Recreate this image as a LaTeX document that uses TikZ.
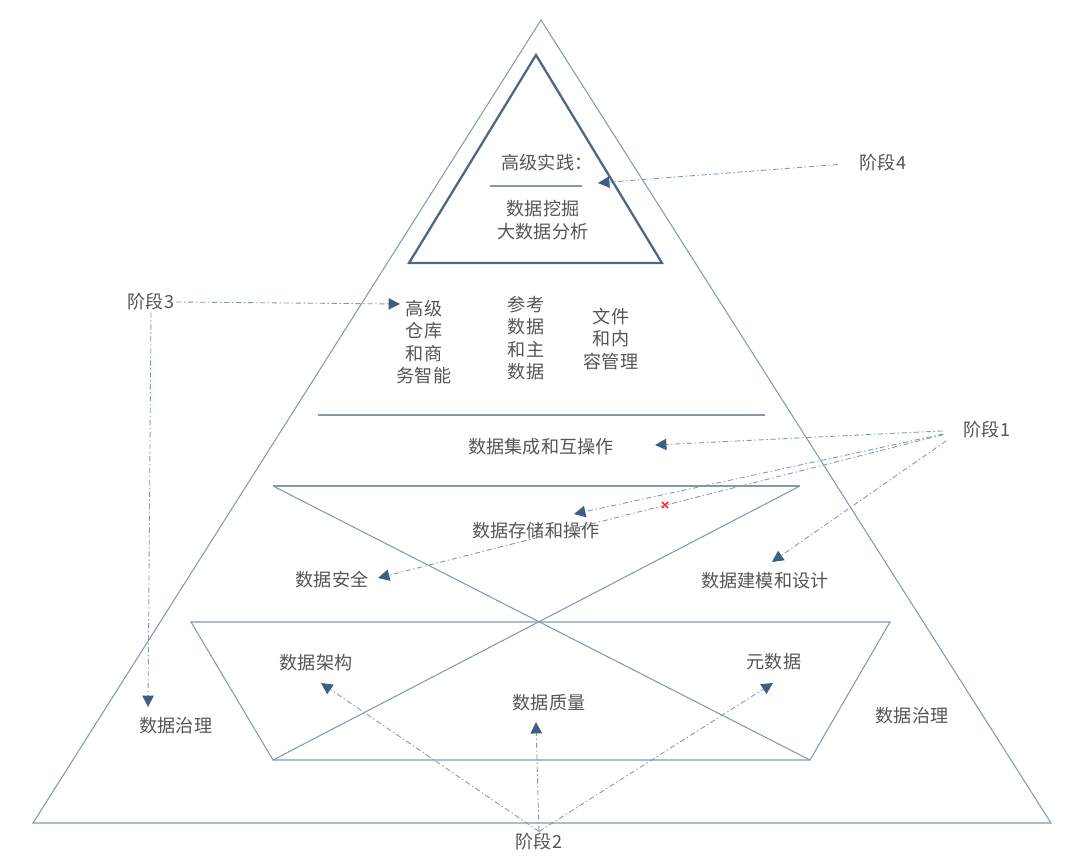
\documentclass[tikz,border=0pt]{standalone}
\usepackage{fontspec}
\setmainfont{Noto Sans CJK SC}
\usepackage{tikz}
\usetikzlibrary{arrows.meta}
\definecolor{frame}{HTML}{8399B0}
\definecolor{deep}{HTML}{4C6885}
\definecolor{tip}{HTML}{3F5F82}
\definecolor{ink}{HTML}{555555}

\begin{document}
\begin{tikzpicture}[x=0.02cm,y=-0.02cm,
    every node/.style={text=ink,font=\fontsize{10.3}{12.8}\selectfont,align=center,inner sep=1pt},
    frameline/.style={draw=frame,line width=0.6pt},
    flow/.style={draw=frame,line width=0.5pt,dash pattern=on 3pt off 1.5pt on 0.8pt off 1.5pt,
        -{Triangle[length=6.5pt,width=6.5pt,color=tip]}}]
    \useasboundingbox (0,0) rectangle (1080,862);
    % outer pyramid and the inner top triangle
    \draw[frameline] (541,20) -- (1051,823) -- (33,823) -- cycle;
    \draw[deep, line width=1.3pt] (536,55) -- (662,263) -- (409,263) -- cycle;
    \draw[frameline] (490,186) -- (582,186);
    \draw[frameline] (318,415) -- (765,415);
    % the two trapezoids with the cross
    \draw[frameline] (273,486) -- (800,486);
    \draw[frameline] (273,486) -- (810,760);
    \draw[frameline] (800,486) -- (273,760);
    \draw[frameline] (191,622) -- (890,622) -- (810,760) -- (273,760) -- cycle;
    \draw[red, line width=0.8pt] (662,502) -- (668,508) (662,508) -- (668,502);

    \node (adv) at (547,163) {高级实践：};
    \node (mining) at (543,220) {数据挖掘\\大数据分析};
    \node (dwbi) at (424,342) {高级\\仓库\\和商\\务智能};
    \node (ref) at (526,338) {参考\\数据\\和主\\数据};
    \node (doc) at (611,339) {文件\\和内\\容管理};
    \node (integ) at (541,447) {数据集成和互操作};
    \node (store) at (536,531) {数据存储和操作};
    \node (secu) at (332,580) {数据安全};
    \node (model) at (765,581) {数据建模和设计};
    \node (arch) at (316,663) {数据架构};
    \node (meta) at (774,662) {元数据};
    \node (qual) at (549,703) {数据质量};
    \node (govl) at (176,726) {数据治理};
    \node (govr) at (912,716) {数据治理};

    \node (s1) at (987,430) {阶段1};
    \node (s2) at (539,842) {阶段2};
    \node (s3) at (151,302) {阶段3};
    \node (s4) at (883,163) {阶段4};

    \coordinate (t4) at (598,183);
    \coordinate (t3a) at (400,304);
    \coordinate (t3b) at (148,707);
    \coordinate (t1a) at (655,445);
    \coordinate (t1b) at (574,514);
    \coordinate (t1c) at (378,578);
    \coordinate (t1d) at (772,562);
    \coordinate (t2a) at (321,683);
    \coordinate (t2b) at (536,722);
    \coordinate (t2c) at (773,683);

    % stage arrows
    \draw[flow, shorten <=0.4cm] (s4.west) -- (t4);
    \draw[flow] (s3.east) -- (t3a);
    \draw[flow] (s3.south) -- (t3b);
    \draw[flow, shorten <=0.38cm] (s1.west) -- (t1a);
    \draw[flow, shorten <=0.38cm] (s1.west) -- (t1b);
    \draw[flow, shorten <=0.38cm] (s1.west) -- (t1c);
    \draw[flow, shorten <=0.38cm] (s1.west) -- (t1d);
    \draw[flow] (s2.north) -- (t2a);
    \draw[flow] (s2.north) -- (t2b);
    \draw[flow] (s2.north) -- (t2c);
\end{tikzpicture}
\end{document}
